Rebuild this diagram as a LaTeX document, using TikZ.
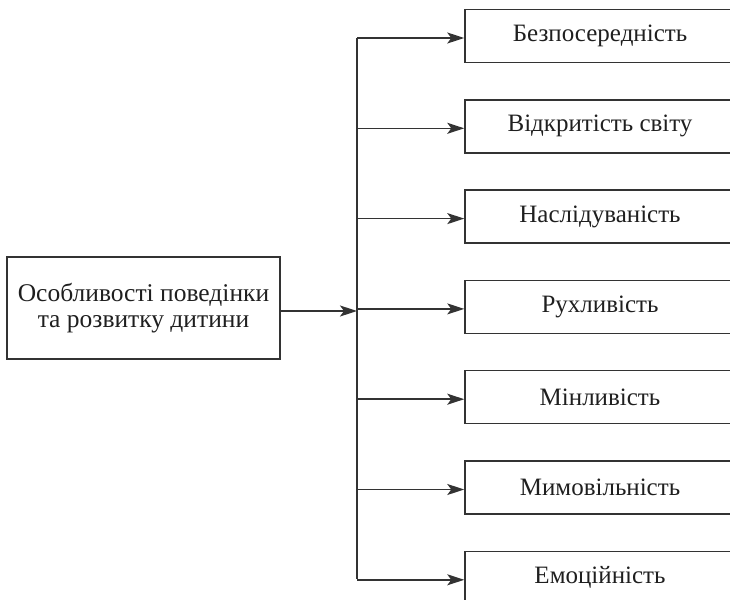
\documentclass[tikz,border=0pt]{standalone}
\usepackage{fontspec}
\setmainfont{Liberation Serif}
\usetikzlibrary{arrows.meta}
\tikzset{
  box/.style={draw=black!80, line width=1.5pt, inner sep=0pt, align=center,
    font=\fontsize{25}{26}\selectfont, text=black!88},
  rbox/.style={box, minimum width=270pt, minimum height=53pt},
  conn/.style={draw=black!80, line width=1.5pt, -{Stealth[length=17pt,width=11pt,inset=4pt]}},
  trunk/.style={draw=black!80, line width=1.5pt}
}
\begin{document}
\begin{tikzpicture}[x=1pt,y=-1pt]
\useasboundingbox (0,0) rectangle (730,599);
\clip (0,0) rectangle (730,599);
\node[box, minimum width=273pt, minimum height=102pt, font=\fontsize{25.5}{26}\selectfont] (L) at (143.5,308) {Особливості поведінки\\та розвитку дитини};
\node[rbox] (b1) at (600,36) {Безпосередність};
\node[rbox] (b2) at (600,126.3) {Відкритість світу};
\node[rbox] (b3) at (600,216.6) {Наслідуваність};
\node[rbox] (b4) at (600,306.9) {Рухливість};
\node[rbox] (b5) at (600,397.2) {Мінливість};
\node[rbox] (b6) at (600,487.5) {Мимовільність};
\node[rbox] (b7) at (600,577.8) {Емоційність};
\coordinate (top) at (357,38);
\coordinate (bot) at (357,579);
\coordinate (mid) at (357,311);
\draw[trunk] (top) -- (bot);
\draw[conn] (L.east |- mid) -- (mid);
\draw[conn] (top) -- (b1.west |- top);
\foreach \n in {b2,b3,b4,b5,b6,b7}{
  \draw[conn] ([yshift=-2pt]\n.west -| top) -- ([yshift=-2pt]\n.west);
}
\end{tikzpicture}
\end{document}
